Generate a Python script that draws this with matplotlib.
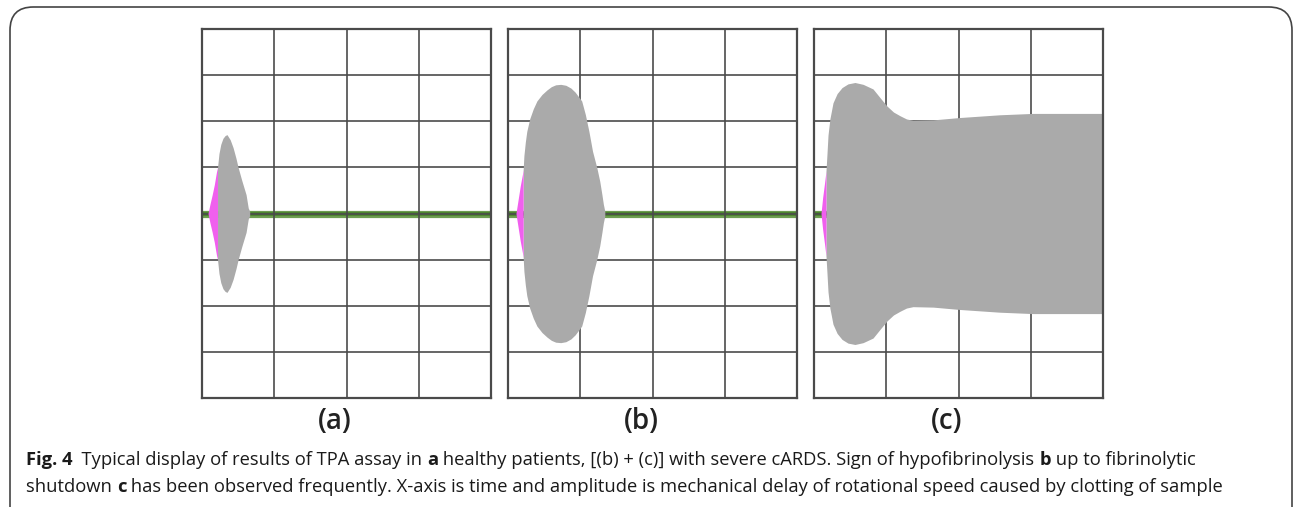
import matplotlib
matplotlib.use("Agg")
import matplotlib.pyplot as plt
from matplotlib.patches import FancyBboxPatch
import numpy as np

# ---------------- data (grid units: x = time divisions, y = amplitude divisions) -------------
panel_labels = ["(a)", "(b)", "(c)"]

# panel (a) envelope
a_pink_t = [0.083, 0.11, 0.14, 0.17, 0.20, 0.215]
a_pink_amp = [0.0, 0.2, 0.4, 0.62, 0.9, 1.0]
a_gray_t = [0.215, 0.235, 0.26, 0.29, 0.32, 0.346, 0.39, 0.43, 0.47, 0.50, 0.55, 0.61, 0.64, 0.66]
a_gray_amp = [1.0, 1.3, 1.5, 1.63, 1.69, 1.71, 1.6, 1.43, 1.2, 1.0, 0.72, 0.41, 0.12, 0.05]

# panel (b) envelope
b_pink_t = [0.11, 0.14, 0.17, 0.20, 0.21]
b_pink_amp = [0.0, 0.3, 0.6, 0.85, 0.95]
b_gray_t = [0.21, 0.22, 0.24, 0.26, 0.30, 0.35, 0.40, 0.47, 0.54, 0.60, 0.66, 0.73, 0.80, 0.87, 0.93,
            1.02, 1.07, 1.12, 1.17, 1.23, 1.27, 1.30, 1.32, 1.34]
b_gray_amp = [0.95, 1.25, 1.55, 1.78, 2.05, 2.27, 2.44, 2.58, 2.68, 2.75, 2.79, 2.80, 2.78, 2.72, 2.63,
              2.44, 2.15, 1.78, 1.35, 0.99, 0.7, 0.41, 0.2, 0.05]

# panel (c) envelope
c_pink_t = [0.097, 0.12, 0.145, 0.166]
c_pink_amp = [0.0, 0.35, 0.65, 0.92]
c_gray_t = [0.166, 0.18, 0.194, 0.22, 0.263, 0.32, 0.388, 0.47, 0.567, 0.68, 0.817, 0.92,
            1.01, 1.10, 1.19, 1.28, 1.37, 1.65, 2.01, 2.57, 3.03, 4.0]
c_gray_amp = [0.92, 1.3, 1.7, 2.05, 2.40, 2.6, 2.73, 2.81, 2.84, 2.8, 2.70, 2.5,
              2.33, 2.2, 2.12, 2.05, 2.02, 2.03, 2.08, 2.14, 2.17, 2.17]

caption_line1 = [("Fig. 4", "bold"), ("  Typical display of results of TPA assay in ", "normal"),
                 ("a", "bold"), (" healthy patients, [(b) + (c)] with severe cARDS. Sign of hypofibrinolysis ", "normal"),
                 ("b", "bold"), (" up to fibrinolytic", "normal")]
caption_line2 = [("shutdown ", "normal"), ("c", "bold"),
                 (" has been observed frequently. X-axis is time and amplitude is mechanical delay of rotational speed caused by clotting of sample", "normal")]

panels = [
    (a_pink_t, a_pink_amp, a_gray_t, a_gray_amp),
    (b_pink_t, b_pink_amp, b_gray_t, b_gray_amp),
    (c_pink_t, c_pink_amp, c_gray_t, c_gray_amp),
]

# ---------------- figure ----------------
W, H = 1295, 507
fig = plt.figure(figsize=(W / 100, H / 100), dpi=100)
fig.patch.set_facecolor("white")

# rounded frame (cut at bottom)
frame = FancyBboxPatch((10 / W, -0.2), (1292 - 10) / W, (H - 7) / H + 0.2,
                       boxstyle="round,pad=0,rounding_size=0.018",
                       transform=fig.transFigure, facecolor="none",
                       edgecolor="#444444", linewidth=1.2, mutation_aspect=W / H)
fig.patches.append(frame)

lefts = [202, 508, 814]
top_px, bot_px, width_px = 29, 398, 289
grid_color = "#4a4a4a"
for i, (pt, pa, gt, ga) in enumerate(panels):
    ax = fig.add_axes([lefts[i] / W, (H - bot_px) / H, width_px / W, (bot_px - top_px) / H])
    ax.set_xlim(0, 4)
    ax.set_ylim(-4, 4)
    ax.set_xticks(range(5))
    ax.set_yticks(range(-4, 5))
    ax.tick_params(length=0, labelbottom=False, labelleft=False)
    for s in ax.spines.values():
        s.set_color(grid_color)
        s.set_linewidth(1.6)
        s.set_zorder(10)
    ax.grid(True, color=grid_color, linewidth=1.4, alpha=0.85, zorder=9)
    ax.set_axisbelow(False)
    # green baseline
    ax.plot([0, 4], [0, 0], color="#6f9f52", linewidth=5.2, solid_capstyle="butt", zorder=2)
    ax.plot([0, 4], [0, 0], color="#4d8530", linewidth=3.0, solid_capstyle="butt", zorder=2)
    pt_a, pa_a = np.asarray(pt), np.asarray(pa)
    gt_a, ga_a = np.asarray(gt), np.asarray(ga)
    ax.fill_between(gt_a, -ga_a, ga_a, color="#aaaaaa", linewidth=0, zorder=3)
    ax.fill_between(pt_a, -pa_a, pa_a, color="#f060ee", linewidth=0, zorder=3)
    ax.text(0.46, -0.025, panel_labels[i], transform=ax.transAxes, ha="center", va="top",
            fontsize=20, fontweight="semibold", family="Open Sans", color="#222222")

# caption with mixed weights
fig.canvas.draw()
renderer = fig.canvas.get_renderer()


def draw_line(segments, x_px, y_px, size=13.2):
    x = x_px
    for txt, wt in segments:
        t = fig.text(x / W, 1 - y_px / H, txt, fontsize=size, fontweight=wt,
                     family="Open Sans", color="#1a1a1a", va="baseline", ha="left")
        bb = t.get_window_extent(renderer=renderer)
        x += bb.width


draw_line(caption_line1, 26, 465)
draw_line(caption_line2, 26, 492)

fig.savefig("out.png", dpi=100, facecolor="white")
